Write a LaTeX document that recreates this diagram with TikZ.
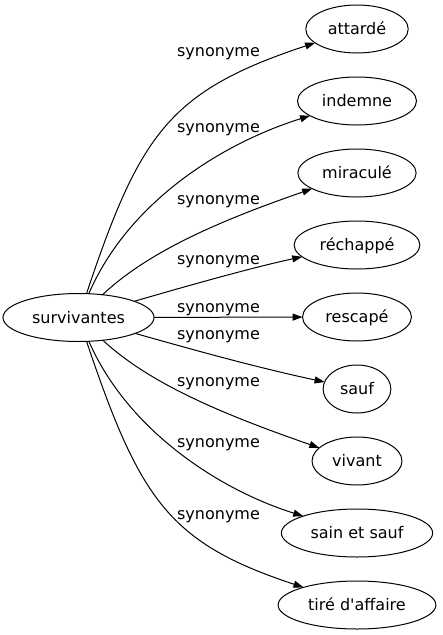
\documentclass[tikz,border=0pt]{standalone}
\usepackage{fontspec}
\setmainfont[Ligatures=TeXOff]{DejaVu Sans}
\usepackage{tikz}
\usetikzlibrary{shapes.geometric, positioning, arrows.meta}
\tikzset{
    >={Triangle[length=10pt, width=7pt]},
    node distance=24pt,
    term/.style={ellipse, draw, line width=1pt, outer sep=0pt, inner xsep=7pt, inner ysep=2pt,
        minimum height=48pt, text height=11.5pt, text depth=0pt},
    syn/.style={->, line width=1pt},
    lbl/.style={anchor=base, inner sep=0pt}
}

\begin{document}
\begin{tikzpicture}[x=1pt, y=-1pt, font=\fontsize{16pt}{19pt}\selectfont]
        \useasboundingbox (0,0) rectangle (443,635);
        \node[term] (survivantes) at (78.5,317.5) {survivantes};
        \node[term] (attarde) at (357,29) {attardé};
        \node[term, below=of attarde] (indemne) {indemne};
        \node[term, below=of indemne] (miracule) {miraculé};
        \node[term, below=of miracule] (rechappe) {réchappé};
        \node[term, below=of rechappe] (rescape) {rescapé};
        \node[term, below=of rescape] (sauf) {sauf};
        \node[term, below=of sauf] (vivant) {vivant};
        \node[term, below=of vivant] (sainetsauf) {sain et sauf};
        \node[term, below=of sainetsauf] (tire) {tiré d'affaire};
        % edges, top to bottom
        \draw[syn] (survivantes) .. controls (140,134) and (169,91) .. (attarde)
            node[lbl] at (218.5,56) {synonyme};
        \draw[syn] (survivantes) .. controls (128,203) and (220,144) .. (indemne)
            node[lbl] at (218.5,132) {synonyme};
        \draw[syn] (survivantes) .. controls (152,248) and (231,217) .. (miracule)
            node[lbl] at (218.5,204) {synonyme};
        \draw[syn] (survivantes) .. controls (180,288) and (250,268) .. (rechappe)
            node[lbl] at (218.5,264) {synonyme};
        \draw[syn] (survivantes) -- (rescape)
            node[lbl] at (218.5,312) {synonyme};
        \draw[syn] (survivantes) .. controls (180,346) and (250,366) .. (sauf)
            node[lbl] at (218.5,339) {synonyme};
        \draw[syn] (survivantes) .. controls (152,386) and (231,417) .. (vivant)
            node[lbl] at (218.5,386) {synonyme};
        \draw[syn] (survivantes) .. controls (128,431) and (220,490) .. (sainetsauf)
            node[lbl] at (218.5,447) {synonyme};
        \draw[syn] (survivantes) .. controls (140,500) and (169,543) .. (tire)
            node[lbl] at (218.5,519) {synonyme};
\end{tikzpicture}
\end{document}
